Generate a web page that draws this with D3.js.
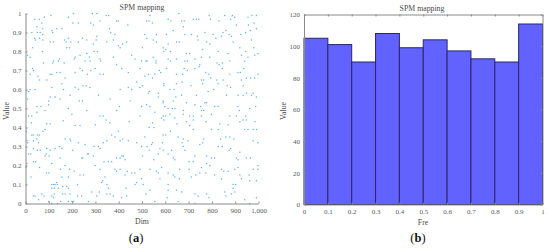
<!DOCTYPE html>
<meta charset="utf-8">
<style>

html, body {
  margin: 0;
  padding: 0;
  background: #fff;
}

svg {
  display: block;
}

text {
  font-family: "Liberation Serif", serif;
}

.axis text {
  font-size: 7px;
  fill: #5a5a5a;
}

.axis path, .axis line {
  stroke: #8a8a8a;
}

.title, .label {
  font-size: 7.8px;
  fill: #4a4a4a;
  text-anchor: middle;
}

.panel {
  font-size: 12.5px;
  fill: #111;
  text-anchor: middle;
}

.bar {
  fill: #6262ff;
  stroke: #27276e;
  stroke-width: 1;
}

</style>
<svg width="550" height="249"></svg>
<script src="https://cdnjs.cloudflare.com/ajax/libs/d3/7.8.5/d3.min.js"></script>
<script>

// [Dim, Value], one list per quadrant
var pointsTopLeft = [[40,.97],[59,.97],[81,.98],[109,.99],[184,.98],[206,1],[287,1],[306,1],[346,.99],[357,.99],[391,.96],[399,.96],[439,.94],[70,.95],[74,.92],[49,.93],[320,.96],[291,.94],[280,.95],[227,.95],[203,.95],[156,.92],[134,.92],[113,.91],[117,.9],[27,.9],[51,.9],[63,.9],[74,.89],[39,.87],[60,.87],[74,.86],[43,.86],[31,.82],[73,.8],[184,.87],[174,.85],[194,.85],[167,.86],[189,.82],[177,.82],[106,.85],[120,.85],[227,.85],[244,.87],[263,.86],[306,.88],[303,.86],[291,.84],[349,.85],[377,.86],[384,.89],[360,.92],[366,.9],[434,.85],[417,.84],[399,.83],[406,.82],[9,.78],[20,.77],[77,.74],[120,.75],[117,.74],[146,.76],[141,.75],[166,.74],[213,.77],[209,.76],[234,.78],[263,.79],[274,.77],[256,.75],[277,.75],[294,.8],[309,.8],[320,.76],[323,.75],[377,.77],[456,.78],[470,.76],[30,.71],[34,.7],[20,.68],[53,.67],[60,.65],[91,.65],[106,.68],[113,.68],[134,.69],[149,.69],[170,.66],[234,.71],[244,.7],[213,.69],[266,.68],[280,.7],[299,.71],[320,.68],[334,.68],[391,.73],[413,.71],[441,.69],[477,.64],[13,.59],[20,.6],[41,.6],[113,.61],[213,.61],[227,.6],[246,.62],[260,.62],[277,.61],[156,.63],[163,.6],[106,.56],[99,.54],[127,.56],[149,.55],[191,.57],[231,.54],[244,.54],[313,.57],[363,.55],[406,.6],[441,.61],[456,.6],[9,.55],[49,.51],[66,.51],[49,.48],[84,.49],[99,.52],[184,.5],[199,.47],[263,.49],[320,.46],[334,.46],[346,.44],[391,.49],[403,.51],[449,.54],[13,.46],[27,.46],[91,.42],[106,.42],[25,.425],[162,.435],[300,.415],[362,.425],[445,.43]];

var pointsTopRight = [[520,.96],[534,.99],[545,.95],[530,.96],[612,.97],[624,.96],[658,1],[670,.96],[681,.96],[677,.93],[720,.97],[734,.97],[744,.97],[788,.99],[794,.97],[830,.96],[855,.99],[888,.99],[898,.98],[880,.97],[905,.94],[955,.98],[972,.99],[991,.99],[991,.92],[981,.95],[957,.94],[512,.89],[520,.87],[562,.89],[548,.86],[562,.85],[605,.89],[634,.91],[684,.89],[712,.89],[648,.85],[660,.85],[612,.84],[737,.88],[741,.86],[770,.9],[777,.85],[791,.84],[805,.89],[817,.87],[841,.88],[848,.9],[860,.91],[874,.89],[884,.88],[891,.85],[924,.89],[945,.9],[965,.91],[970,.86],[502,.82],[591,.82],[594,.8],[602,.81],[622,.8],[760,.81],[920,.82],[980,.82],[945,.8],[927,.78],[827,.8],[870,.79],[984,.78],[998,.79],[691,.79],[705,.79],[517,.75],[498,.75],[522,.75],[548,.77],[560,.75],[560,.74],[612,.76],[622,.75],[648,.76],[684,.75],[695,.75],[727,.76],[755,.77],[748,.73],[822,.74],[845,.74],[831,.73],[791,.77],[877,.75],[941,.75],[955,.77],[491,.71],[527,.68],[512,.67],[545,.66],[574,.7],[580,.69],[555,.68],[605,.71],[648,.68],[674,.68],[695,.7],[681,.71],[727,.71],[745,.72],[774,.69],[787,.68],[845,.71],[877,.68],[912,.69],[922,.69],[937,.71],[967,.66],[984,.66],[998,.68],[948,.66],[491,.61],[502,.62],[531,.59],[570,.58],[594,.63],[594,.62],[620,.6],[638,.6],[648,.63],[672,.64],[710,.62],[755,.65],[765,.65],[760,.63],[795,.66],[820,.65],[827,.63],[808,.6],[848,.65],[865,.62],[880,.61],[934,.62],[927,.65],[977,.58],[527,.58],[570,.56],[591,.54],[634,.54],[645,.56],[670,.57],[734,.57],[784,.59],[862,.57],[912,.57],[934,.57],[948,.58],[970,.57],[991,.56],[498,.51],[520,.52],[534,.51],[555,.48],[591,.53],[598,.51],[612,.5],[630,.5],[641,.5],[677,.49],[691,.53],[727,.52],[752,.51],[770,.53],[777,.53],[755,.49],[765,.49],[812,.51],[827,.51],[912,.51],[917,.49],[945,.46],[962,.5],[988,.51],[491,.46],[591,.46],[584,.45],[602,.46],[620,.47],[641,.45],[677,.47],[705,.46],[720,.46],[755,.46],[798,.47],[877,.46],[905,.46],[920,.43],[934,.44],[948,.44],[834,.42],[594,.44],[691,.43],[720,.44],[545,.425],[650,.42],[775,.43],[870,.415],[985,.43]];

var pointsBottomLeft = [[3,.38],[6,.33],[9,.32],[27,.36],[34,.36],[51,.36],[60,.36],[49,.34],[56,.32],[34,.33],[34,.29],[51,.28],[63,.28],[74,.38],[84,.39],[91,.29],[101,.25],[106,.28],[84,.25],[89,.26],[13,.26],[23,.26],[6,.21],[3,.19],[34,.22],[44,.22],[60,.19],[24,.14],[91,.16],[100,.16],[113,.21],[149,.24],[156,.29],[127,.29],[146,.3],[170,.34],[191,.34],[194,.33],[203,.28],[227,.32],[213,.41],[234,.41],[256,.31],[266,.26],[270,.26],[241,.24],[246,.24],[291,.25],[294,.3],[313,.3],[320,.29],[334,.32],[349,.33],[370,.36],[384,.35],[399,.38],[406,.33],[417,.34],[441,.33],[477,.32],[413,.25],[406,.24],[427,.23],[420,.25],[391,.24],[370,.22],[356,.22],[337,.22],[320,.18],[384,.18],[406,.18],[437,.17],[456,.16],[427,.15],[470,.16],[299,.2],[234,.15],[249,.15],[170,.2],[151,.18],[189,.18],[209,.17],[184,.14],[156,.14],[134,.11],[127,.1],[113,.1],[120,.1],[137,.1],[113,.08],[123,.08],[141,.08],[160,.09],[177,.09],[184,.08],[223,.1],[170,.05],[191,.05],[159,.05],[124,.05],[113,.04],[120,.03],[34,.04],[41,.04],[70,.05],[80,.04],[56,.02],[99,.01],[113,0],[137,0],[151,.01],[184,.01],[199,.01],[206,.01],[241,.04],[223,.04],[270,.01],[284,.06],[306,.04],[317,.06],[327,.11],[331,.12],[341,.14],[349,.1],[356,.08],[349,.05],[363,.05],[377,.04],[413,.03],[434,.04],[431,.08],[470,.1],[477,.11],[391,.17]];

var pointsBottomRight = [[531,.4],[551,.4],[512,.35],[591,.36],[622,.38],[602,.36],[655,.35],[677,.34],[698,.33],[705,.41],[720,.39],[765,.34],[798,.39],[827,.39],[838,.34],[860,.35],[877,.35],[894,.34],[941,.39],[955,.39],[977,.39],[991,.39],[977,.33],[998,.32],[498,.3],[522,.3],[541,.31],[545,.32],[531,.28],[502,.25],[577,.29],[588,.32],[591,.28],[570,.26],[551,.23],[612,.26],[634,.24],[627,.28],[641,.23],[677,.3],[684,.28],[672,.32],[748,.31],[760,.32],[777,.25],[727,.25],[720,.22],[702,.22],[777,.21],[791,.2],[798,.24],[812,.24],[827,.3],[845,.3],[874,.28],[880,.29],[920,.27],[912,.23],[905,.24],[898,.18],[948,.24],[965,.24],[977,.18],[998,.2],[998,.18],[491,.18],[498,.13],[534,.18],[562,.17],[570,.16],[577,.13],[584,.19],[612,.16],[634,.15],[641,.14],[662,.18],[660,.13],[702,.18],[712,.14],[731,.15],[748,.16],[755,.19],[774,.16],[812,.15],[841,.18],[851,.17],[870,.17],[841,.13],[912,.19],[920,.15],[927,.13],[960,.15],[962,.12],[991,.12],[505,.1],[534,.07],[517,.05],[612,.1],[612,.07],[608,.03],[648,.07],[670,.06],[727,.05],[741,.04],[777,.05],[787,.03],[855,.06],[860,.04],[891,.1],[902,.1],[891,.08],[898,.06],[884,.05],[941,.02],[991,.03],[555,.01],[655,.01],[727,0],[962,0]];

var binCounts = [105, 101, 90, 108, 99, 104, 97, 92, 90, 114];
var binStarts = [0, 0.1, 0.2, 0.3, 0.4, 0.5, 0.6, 0.7, 0.8, 0.9];

var dimTicks = [0, 100, 200, 300, 400, 500, 600, 700, 800, 900, 1000];
var valueTicks = [0, 0.1, 0.2, 0.3, 0.4, 0.5, 0.6, 0.7, 0.8, 0.9, 1];
var freTicks = [0, 0.1, 0.2, 0.3, 0.4, 0.5, 0.6, 0.7, 0.8, 0.9, 1];
var countTicks = [0, 20, 40, 60, 80, 100, 120];

var svg = d3.select("svg");

// left panel
var xDim = d3.scaleLinear().domain([0, 1000]).range([25.5, 258.5]);
var yVal = d3.scaleLinear().domain([0, 1]).range([203.5, 13.5]);

var points = pointsTopLeft.concat(pointsTopRight, pointsBottomLeft, pointsBottomRight);

svg.append("g")
  .selectAll("circle")
    .data(points)
  .enter().append("circle")
    .attr("cx", function(d) { return xDim(d[0]); })
    .attr("cy", function(d) { return yVal(d[1]); })
    .attr("r", 0.75)
    .attr("fill", "#62b4ea");

svg.append("g")
    .attr("class", "axis")
    .attr("transform", "translate(0,203.5)")
    .call(d3.axisBottom(xDim).tickValues(dimTicks).tickFormat(d3.format(",")).tickSizeInner(-2).tickSizeOuter(0).tickPadding(5));

svg.append("g")
    .attr("class", "axis")
    .attr("transform", "translate(25.5,0)")
    .call(d3.axisLeft(yVal).tickValues(valueTicks).tickFormat(d3.format("~g")).tickSizeInner(-2).tickSizeOuter(0).tickPadding(4));

// right panel
var xFre = d3.scaleLinear().domain([0, 1]).range([304, 542.5]);
var yCount = d3.scaleLinear().domain([0, 120]).range([204.5, 14.5]);

svg.append("g")
  .selectAll("rect")
    .data(binCounts)
  .enter().append("rect")
    .attr("class", "bar")
    .attr("x", function(d, i) { return xFre(binStarts[i]); })
    .attr("y", function(d) { return yCount(d); })
    .attr("width", xFre(0.1) - xFre(0))
    .attr("height", function(d) { return yCount(0) - yCount(d); });

svg.append("g")
    .attr("class", "axis")
    .attr("transform", "translate(0,204.5)")
    .call(d3.axisBottom(xFre).tickValues(freTicks).tickFormat(d3.format("~g")).tickSizeInner(-2).tickSizeOuter(0).tickPadding(5));

svg.append("g")
    .attr("class", "axis")
    .attr("transform", "translate(304,0)")
    .call(d3.axisLeft(yCount).tickValues(countTicks).tickSizeInner(-2).tickSizeOuter(0).tickPadding(4));

// box top and right
svg.append("g")
    .attr("class", "axis")
    .attr("transform", "translate(0,14.5)")
    .call(d3.axisTop(xFre).tickValues(freTicks).tickFormat("").tickSizeInner(-2).tickSizeOuter(0));

svg.append("g")
    .attr("class", "axis")
    .attr("transform", "translate(542.5,0)")
    .call(d3.axisRight(yCount).tickValues(countTicks).tickFormat("").tickSizeInner(-2).tickSizeOuter(0));

// titles and labels
svg.append("text").attr("class", "title").attr("x", 142).attr("y", 10).text("SPM mapping");
svg.append("text").attr("class", "title").attr("x", 422).attr("y", 11).text("SPM mapping");
svg.append("text").attr("class", "label").attr("x", 142).attr("y", 224).text("Dim");
svg.append("text").attr("class", "label").attr("x", 423).attr("y", 225).text("Fre");
svg.append("text").attr("class", "label")
    .attr("transform", "translate(9,111) rotate(-90)").text("Value");
svg.append("text").attr("class", "label")
    .attr("transform", "translate(286,111) rotate(-90)").text("Value");

var panelA = svg.append("text").attr("class", "panel").attr("x", 136).attr("y", 242);
panelA.append("tspan").text("(");
panelA.append("tspan").attr("font-weight", "bold").text("a");
panelA.append("tspan").text(")");

var panelB = svg.append("text").attr("class", "panel").attr("x", 418).attr("y", 242);
panelB.append("tspan").text("(");
panelB.append("tspan").attr("font-weight", "bold").text("b");
panelB.append("tspan").text(")");

</script>
